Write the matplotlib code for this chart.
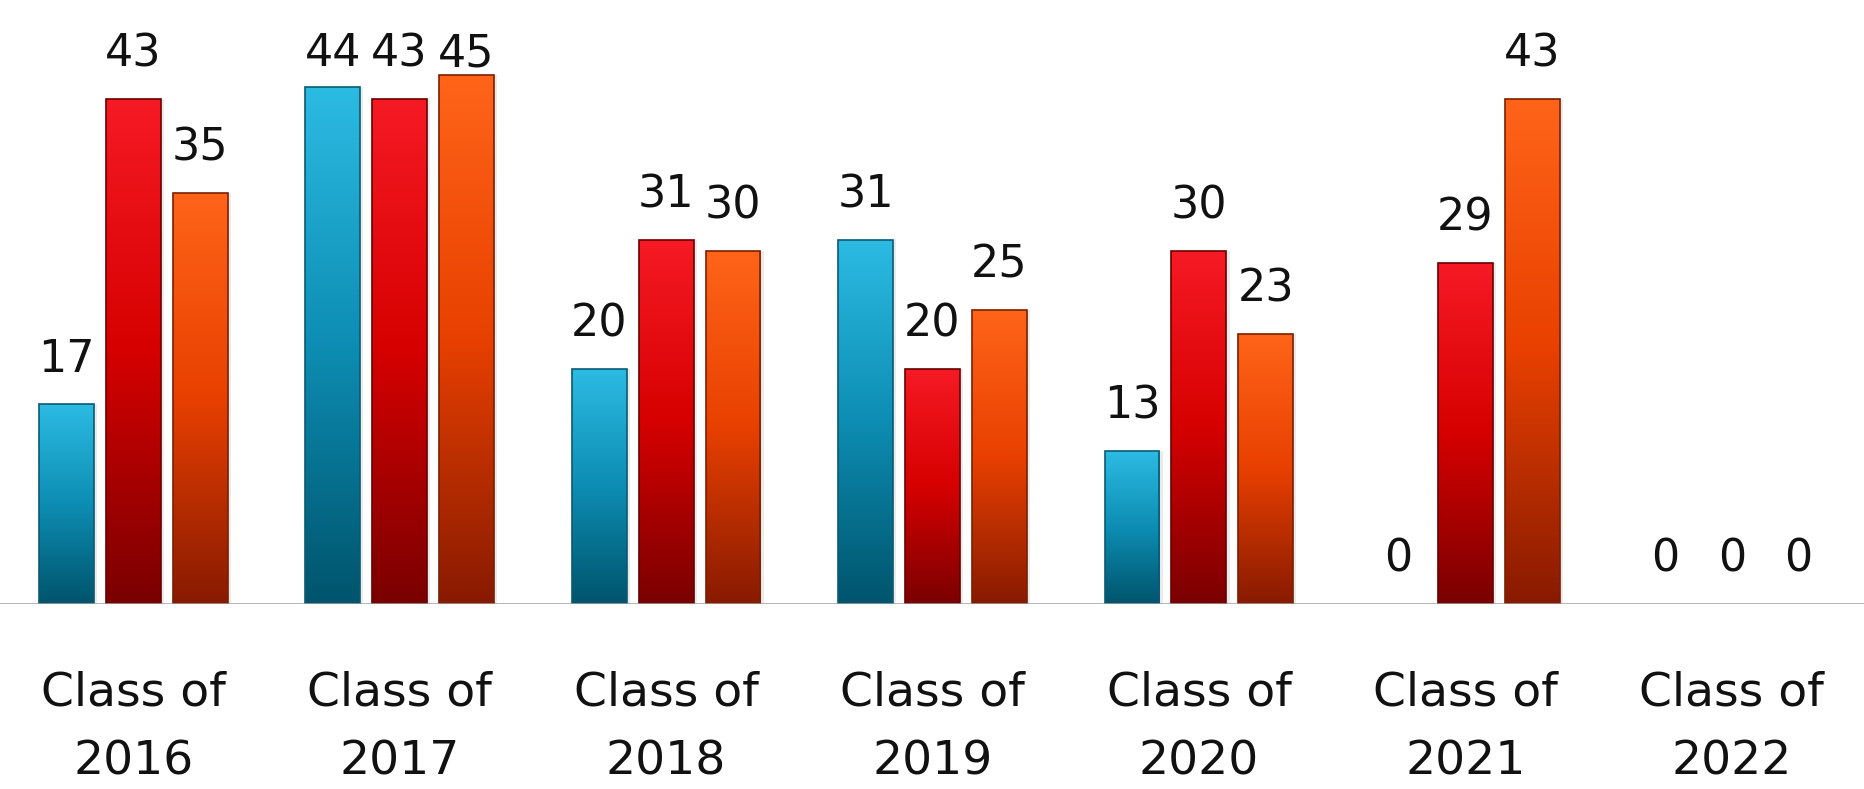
import numpy as np
import matplotlib.pyplot as plt
from matplotlib.colors import LinearSegmentedColormap

categories = ["Class of\n2016", "Class of\n2017", "Class of\n2018", "Class of\n2019",
              "Class of\n2020", "Class of\n2021", "Class of\n2022"]
blue_vals = [17, 44, 20, 31, 13, 0, 0]
red_vals = [43, 43, 31, 20, 30, 29, 0]
orange_vals = [35, 45, 30, 25, 23, 43, 0]

series = [
    (blue_vals, ["#2cbbe3", "#0d8db3", "#00546c"], "#0b5a72"),
    (red_vals, ["#f61a24", "#d60000", "#7a0000"], "#6a0000"),
    (orange_vals, ["#ff6419", "#e84000", "#881a00"], "#7a2000"),
]

fig = plt.figure(figsize=(18.65, 7.89), dpi=100)
ax = fig.add_axes([0.0, 0.2345, 1.0, 0.7655])

x = np.arange(len(categories))
pitch = 0.251
width = 0.206
grad = np.linspace(1, 0, 256).reshape(-1, 1)

for i, (vals, cols, edge) in enumerate(series):
    cmap = LinearSegmentedColormap.from_list(f"g{i}", cols[::-1])
    pos = x + (i - 1) * pitch
    bars = ax.bar(pos, vals, width=width, color="none", edgecolor=edge,
                  linewidth=[1.2 if v > 0 else 0 for v in vals], zorder=3)
    for b, v in zip(bars, vals):
        if v <= 0:
            continue
        x0, y0 = b.get_x(), b.get_y()
        w, h = b.get_width(), b.get_height()
        # soft shadow on the right side
        ax.bar(x0 + w / 2 + 0.012, v, width=w, bottom=0, color="#000000", alpha=0.08,
               linewidth=0, zorder=1)
        im = ax.imshow(grad, extent=[x0, x0 + w, y0, y0 + h], aspect="auto",
                       cmap=cmap, vmin=0, vmax=1, zorder=2, interpolation="bicubic")
        im.set_clip_path(b)
    for p, v in zip(pos, vals):
        # labels of the tallest bars are kept inside the chart
        ax.annotate(str(v), (p, min(v, 43)), xytext=(0, 17), textcoords="offset points",
                    ha="center", va="bottom", fontsize=32, color="#111111")

ax.axhline(0, color="#a0a0a0", linewidth=1.8, zorder=4)

ax.set_xlim(-0.5, 6.5)
ax.set_ylim(0, 51.4)
ax.set_xticks(x)
ax.set_xticklabels(categories, fontsize=34, linespacing=1.68, color="#111111")
ax.tick_params(axis="x", length=0, pad=48)
ax.set_yticks([])
for s in ax.spines.values():
    s.set_visible(False)

fig.savefig("out.png", dpi=100)
